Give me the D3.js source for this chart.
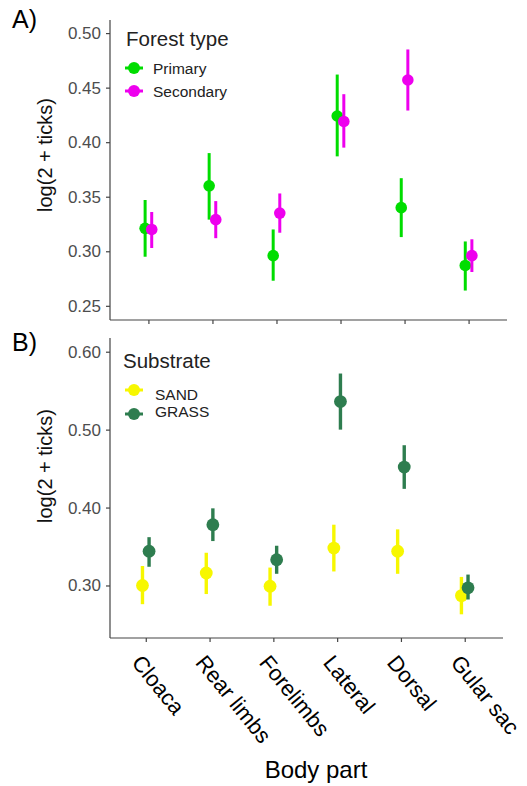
<!DOCTYPE html>
<html>
<head>
<meta charset="utf-8">
<script src="https://cdn.jsdelivr.net/npm/d3@7"></script>
<style>
  body { margin: 0; background: #fff; }
  svg { display: block; font-family: "Liberation Sans", Arial, sans-serif; }
</style>
</head>
<body>
<div id="chart"></div>
<script>
const bodyParts = ["Cloaca", "Rear limbs", "Forelimbs", "Lateral", "Dorsal", "Gular sac"];

// A) forest type
const forestGroups = ["Primary", "Secondary"];
const primaryMean = [0.321, 0.360, 0.296, 0.424, 0.340, 0.287];
const primaryLow = [0.295, 0.329, 0.273, 0.387, 0.313, 0.264];
const primaryHigh = [0.347, 0.390, 0.320, 0.462, 0.367, 0.309];
const secondaryMean = [0.320, 0.329, 0.335, 0.419, 0.457, 0.296];
const secondaryLow = [0.303, 0.312, 0.317, 0.395, 0.429, 0.281];
const secondaryHigh = [0.336, 0.346, 0.353, 0.444, 0.485, 0.311];
const forestTicks = [0.25, 0.30, 0.35, 0.40, 0.45, 0.50];

// B) substrate
const substrateGroups = ["SAND", "GRASS"];
const sandMean = [0.300, 0.316, 0.299, 0.348, 0.344, 0.287];
const sandLow = [0.276, 0.289, 0.274, 0.318, 0.315, 0.263];
const sandHigh = [0.325, 0.342, 0.323, 0.378, 0.372, 0.311];
const grassMean = [0.344, 0.378, 0.333, 0.536, 0.452, 0.297];
const grassLow = [0.324, 0.357, 0.315, 0.500, 0.424, 0.282];
const grassHigh = [0.362, 0.399, 0.351, 0.572, 0.480, 0.314];
const substrateTicks = [0.30, 0.40, 0.50, 0.60];

const width = 527;
const height = 786;
const axisColor = "#444";
const tickTextColor = "#4d4d4d";

const svg = d3.select("#chart").append("svg")
  .attr("width", width)
  .attr("height", height);

const rows = (groups, series) => {
  const out = [];
  groups.forEach((grp, gi) => {
    bodyParts.forEach((part, i) => {
      out.push({ part: part, group: grp, mean: series[gi][0][i], low: series[gi][1][i], high: series[gi][2][i] });
    });
  });
  return out;
};

const drawPanel = (opt) => {
  const g = svg.append("g");

  const x = d3.scalePoint().domain(bodyParts).range(opt.xRange).padding(0.6);
  const y = d3.scaleLinear().domain(opt.yDomain).range([opt.bottom, opt.top]);
  const dodge = d3.scalePoint().domain(opt.groups).range([-3.3, 3.3]);
  const color = d3.scaleOrdinal().domain(opt.groups).range(opt.colors);

  // y axis
  const yAxis = g.append("g")
    .attr("transform", `translate(${opt.left},0)`)
    .call(d3.axisLeft(y).tickValues(opt.ticks).tickFormat(d3.format(".2f")).tickSize(4).tickPadding(5));
  yAxis.select(".domain").remove();
  yAxis.selectAll(".tick line").attr("stroke", axisColor).attr("stroke-width", 1.2);
  yAxis.selectAll(".tick text")
    .attr("fill", tickTextColor)
    .style("font-size", "17px")
    .style("font-family", "'Liberation Sans', Arial, sans-serif");

  // x axis
  const xAxis = g.append("g")
    .attr("transform", `translate(0,${opt.bottom})`)
    .call(d3.axisBottom(x).tickSize(4).tickFormat(""));
  xAxis.select(".domain").remove();
  xAxis.selectAll(".tick line").attr("stroke", axisColor).attr("stroke-width", 1.2);

  g.append("line")
    .attr("x1", opt.left).attr("x2", opt.left)
    .attr("y1", opt.top).attr("y2", opt.bottom)
    .attr("stroke", axisColor).attr("stroke-width", 1.2);
  g.append("line")
    .attr("x1", opt.left).attr("x2", opt.xRange[1])
    .attr("y1", opt.bottom).attr("y2", opt.bottom)
    .attr("stroke", axisColor).attr("stroke-width", 1.2);

  // y title
  g.append("text")
    .attr("transform", `translate(45,${opt.titleY}) rotate(-90)`)
    .attr("text-anchor", "middle")
    .attr("dy", "0.35em")
    .style("font-size", "20px")
    .attr("fill", "#111")
    .text("log(2 + ticks)");

  // panel letter
  g.append("text")
    .attr("x", 12)
    .attr("y", opt.letterY)
    .style("font-size", "25px")
    .attr("fill", "#000")
    .text(opt.letter);

  // error bars and points
  const marks = g.append("g").selectAll("g").data(opt.data).enter().append("g");
  marks.append("line")
    .attr("x1", (d) => x(d.part) + dodge(d.group))
    .attr("x2", (d) => x(d.part) + dodge(d.group))
    .attr("y1", (d) => y(d.low))
    .attr("y2", (d) => y(d.high))
    .attr("stroke", (d) => color(d.group))
    .attr("stroke-width", opt.barWidth);
  marks.append("circle")
    .attr("cx", (d) => x(d.part) + dodge(d.group))
    .attr("cy", (d) => y(d.mean))
    .attr("r", opt.radius)
    .attr("fill", (d) => color(d.group));

  // legend
  const legend = g.append("g");
  legend.append("text")
    .attr("x", opt.legendX)
    .attr("y", opt.legendTitleY)
    .style("font-size", "20.5px")
    .attr("fill", "#222")
    .text(opt.legendTitle);
  const keys = legend.selectAll("g.key").data(opt.groups).enter().append("g")
    .attr("class", "key");
  keys.append("line")
    .attr("x1", 125).attr("x2", 143)
    .attr("y1", (d, i) => opt.keyY[i]).attr("y2", (d, i) => opt.keyY[i])
    .attr("stroke", (d) => color(d))
    .attr("stroke-width", 3);
  keys.append("circle")
    .attr("cx", 134)
    .attr("cy", (d, i) => opt.keyY[i])
    .attr("r", 6)
    .attr("fill", (d) => color(d));
  keys.append("text")
    .attr("x", opt.keyTextX)
    .attr("y", (d, i) => opt.keyTextY[i])
    .style("font-size", "15.5px")
    .attr("fill", "#222")
    .text((d) => d);

  return x;
};

drawPanel({
  letter: "A)",
  letterY: 28,
  data: rows(forestGroups, [[primaryMean, primaryLow, primaryHigh], [secondaryMean, secondaryLow, secondaryHigh]]),
  groups: forestGroups,
  colors: ["#00dd00", "#ee00ee"],
  ticks: forestTicks,
  yDomain: [0.237, 0.512],
  top: 20,
  bottom: 320,
  left: 110,
  xRange: [110, 507],
  titleY: 155,
  radius: 5.8,
  barWidth: 3,
  legendTitle: "Forest type",
  legendX: 126,
  legendTitleY: 46,
  keyY: [68, 91],
  keyTextX: 153,
  keyTextY: [73.5, 96.5]
});

const xB = drawPanel({
  letter: "B)",
  letterY: 351,
  data: rows(substrateGroups, [[sandMean, sandLow, sandHigh], [grassMean, grassLow, grassHigh]]),
  groups: substrateGroups,
  colors: ["#f7f700", "#2e7d4f"],
  ticks: substrateTicks,
  yDomain: [0.2326, 0.6176],
  top: 338,
  bottom: 638,
  left: 110,
  xRange: [107.5, 503],
  titleY: 466,
  radius: 6.4,
  barWidth: 3.4,
  legendTitle: "Substrate",
  legendX: 123,
  legendTitleY: 368,
  keyY: [390, 414],
  keyTextX: 155,
  keyTextY: [400, 417]
});

// rotated category labels under panel B
svg.append("g").selectAll("text").data(bodyParts).enter().append("text")
  .attr("transform", (d) => `translate(${xB(d) - 15},663) rotate(51)`)
  .attr("text-anchor", "start")
  .style("font-size", "22px")
  .attr("fill", "#000")
  .text((d) => d);

svg.append("text")
  .attr("x", 316)
  .attr("y", 778)
  .attr("text-anchor", "middle")
  .style("font-size", "24px")
  .attr("fill", "#000")
  .text("Body part");
</script>
</body>
</html>
